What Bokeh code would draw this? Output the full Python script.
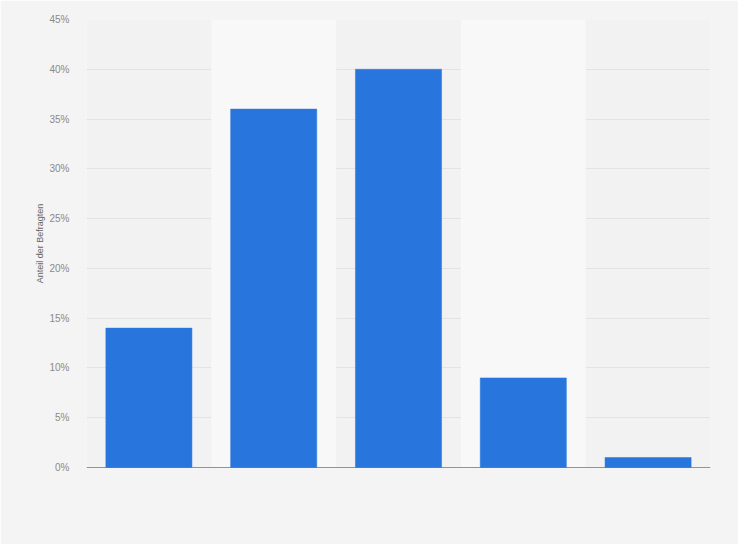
from bokeh.models import ColumnDataSource, FixedTicker, PrintfTickFormatter, Span, Range1d
from bokeh.plotting import figure
from bokeh.embed import file_html
from bokeh.resources import INLINE

# shares of respondents (%), one bar per answer, no category labels shown
shares = [14, 36, 40, 9, 1]
y_ticks = [0, 5, 10, 15, 20, 25, 30, 35, 40, 45]
y_label = "Anteil der Befragten"

positions = list(range(1, len(shares) + 1))
source = ColumnDataSource({"x": positions, "share": shares})
bands = ColumnDataSource({"x": positions[1::2], "top": [y_ticks[-1]] * len(positions[1::2])})

p = figure(
    width=738,
    height=544,
    x_range=Range1d(0.5, len(shares) + 0.5),
    y_range=Range1d(0, y_ticks[-1]),
    output_backend="svg",
    toolbar_location=None,
    tools="",
    min_border_left=86,
    min_border_right=28,
    min_border_top=19,
    min_border_bottom=77,
)
p.background_fill_color = "#f2f2f2"
p.border_fill_color = "#f4f4f4"
p.outline_line_color = None

# lighter background band behind every second category
p.vbar(x="x", top="top", width=1, source=bands, fill_color="#f8f8f8", line_color=None)

p.vbar(x="x", top="share", width=0.69, source=source,
       fill_color="#2876dd", line_color="#2876dd", line_width=0.5)

p.xaxis.visible = False
p.xgrid.visible = False

p.yaxis.ticker = FixedTicker(ticks=y_ticks)
p.yaxis.formatter = PrintfTickFormatter(format="%d%%")
p.yaxis.axis_line_color = None
p.yaxis.major_tick_line_color = None
p.yaxis.minor_tick_line_color = None
p.yaxis.major_label_standoff = 11
p.yaxis.major_label_text_font = "Liberation Sans"
p.yaxis.major_label_text_font_size = "10px"
p.yaxis.major_label_text_color = "#8a8a8a"
p.yaxis.axis_label = y_label
p.yaxis.axis_label_text_font = "Liberation Sans"
p.yaxis.axis_label_text_font_size = "9px"
p.yaxis.axis_label_text_font_style = "normal"
p.yaxis.axis_label_text_color = "#666666"
p.yaxis.axis_label_standoff = 1

p.ygrid.grid_line_color = "#d4d4d4"
p.ygrid.grid_line_dash = "1 1"
p.ygrid.grid_line_width = 1

baseline = Span(location=0, dimension="width", line_color="#333333", line_width=1.2)
p.add_layout(baseline)

html = file_html(p, INLINE)
html = html.replace("<body>", '<body style="background:#f4f4f4">', 1)
open("out.html", "w").write(html)
